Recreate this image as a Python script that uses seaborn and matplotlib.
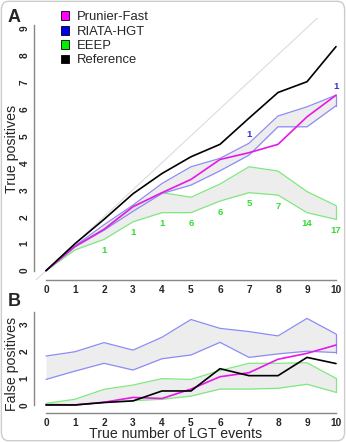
import numpy as np
import pandas as pd
import matplotlib
matplotlib.use("Agg")
import matplotlib.pyplot as plt
from matplotlib.patches import Patch, FancyBboxPatch
import seaborn as sns

sns.set_style("white")
plt.rcParams['font.family'] = ['Liberation Sans', 'DejaVu Sans']

# ---------------- data ----------------
n_lgt = list(range(11))

# Panel A: true positives
tp_reference = [0, 1.0, 1.9, 2.85, 3.6, 4.22, 4.68, 5.65, 6.6, 7.0, 8.3]
tp_prunier = [0, 0.9, 1.53, 2.37, 2.89, 3.38, 4.12, 4.37, 4.68, 5.7, 6.5]
tp_riata_hi = [0, 0.92, 1.7, 2.43, 3.23, 3.85, 4.16, 4.72, 5.73, 6.07, 6.5]
tp_riata_lo = [0, 0.88, 1.5, 2.2, 2.86, 3.17, 3.7, 4.28, 5.33, 5.33, 6.11]
tp_eeep_hi = [0, 0.9, 1.55, 2.37, 2.89, 2.72, 3.21, 3.85, 3.69, 2.93, 2.41]
tp_eeep_lo = [0, 0.77, 1.16, 1.81, 2.15, 2.15, 2.58, 2.89, 2.8, 2.15, 1.9]

eeep_counts = ["", "", "1", "1", "1", "6", "6", "5", "7", "14", "17"]
riata_counts = ["", "", "", "", "", "", "", "1", "", "", "1"]

# Panel B: false positives
fp_reference = [0, 0, 0.09, 0.15, 0.52, 0.52, 1.35, 1.09, 1.09, 1.77, 1.54]
fp_prunier = [0, 0, 0.1, 0.28, 0.24, 0.59, 1.05, 1.2, 1.7, 1.92, 2.23]
fp_riata_hi = [1.82, 1.98, 2.32, 2.04, 2.52, 3.18, 2.85, 2.73, 2.57, 3.22, 2.64]
fp_riata_lo = [0.95, 1.26, 1.55, 1.3, 1.72, 1.86, 2.33, 1.77, 1.9, 2.0, 1.95]
fp_eeep_hi = [0.06, 0.21, 0.58, 0.74, 0.98, 0.95, 1.28, 1.55, 1.55, 1.57, 0.99]
fp_eeep_lo = [0.04, 0.0, 0.1, 0.16, 0.21, 0.33, 0.59, 0.59, 0.62, 0.77, 0.47]

legend_labels = ["Prunier-Fast", "RIATA-HGT", "EEEP", "Reference"]
legend_colors = ["#ff00ff", "#0000ee", "#00ee00", "#000000"]

# ---------------- style ----------------
C_MAG = "#e619e6"
C_BLUE_EDGE = "#8c8cf5"
C_GREEN_EDGE = "#7fe87f"
C_FILL = "#e6e6e6"
C_SPINE = "#888888"
TICK_FS = 7.3
LABEL_FS = 10.2

W, H = 346, 442
fig = plt.figure(figsize=(W / 100, H / 100), dpi=100)


def px_axes(left, right, top, bottom):
    return fig.add_axes([left / W, 1 - bottom / H, (right - left) / W, (bottom - top) / H])


def style_axes(ax, ymax_tick, ybound_top):
    ax.set_xlim(-0.4, 10.4)
    for s in ["top", "right"]:
        ax.spines[s].set_visible(False)
    for s in ["left", "bottom"]:
        ax.spines[s].set_color(C_SPINE)
        ax.spines[s].set_linewidth(1.0)
    ax.spines["bottom"].set_bounds(0, 10)
    ax.spines["left"].set_bounds(0, ybound_top)
    ax.set_xticks(n_lgt)
    ax.set_yticks(range(0, ymax_tick + 1))
    ax.tick_params(axis="both", direction="out", length=2.3, width=0.8,
                   color="#333333", labelsize=TICK_FS, pad=1.2)
    for lab in ax.get_xticklabels():
        lab.set_fontweight("bold")
    for lab in ax.get_yticklabels():
        lab.set_fontweight("bold")
        lab.set_rotation(90)
        lab.set_va("center")
    ax.set_facecolor("none")
    ax.grid(False)


def band(ax, x, lo, hi, edge):
    ax.fill_between(x, lo, hi, color=C_FILL, alpha=0.7, lw=0, zorder=1)
    sns.lineplot(x=x, y=lo, ax=ax, color=edge, lw=0.9, zorder=2)
    sns.lineplot(x=x, y=hi, ax=ax, color=edge, lw=0.9, zorder=2)
    ax.plot([x[-1], x[-1]], [lo[-1], hi[-1]], color=edge, lw=0.9, zorder=2)


# ---------------- Panel A ----------------
AX_L, AX_R = 34.4, 347.6
axA = px_axes(AX_L, AX_R, 18.0, 280.4)
axA.set_ylim(-0.36, 9.36)
axA.plot([-0.4, 10.4], [-0.4, 10.4], color="#dcdcdc", lw=0.8, zorder=0)

band(axA, n_lgt, tp_eeep_lo, tp_eeep_hi, C_GREEN_EDGE)
band(axA, n_lgt, tp_riata_lo, tp_riata_hi, C_BLUE_EDGE)
sns.lineplot(x=n_lgt, y=tp_prunier, ax=axA, color=C_MAG, lw=1.2, zorder=4)
sns.lineplot(x=n_lgt, y=tp_reference, ax=axA, color="black", lw=1.2, zorder=5)

for xi, lab, lo in zip(n_lgt, eeep_counts, tp_eeep_lo):
    if lab:
        axA.annotate(lab, (xi, lo), xytext=(0, -8), textcoords="offset points",
                     ha="center", va="center", fontsize=6.8, fontweight="bold",
                     color="#33dd33")
for xi, lab, hi in zip(n_lgt, riata_counts, tp_riata_hi):
    if lab:
        axA.annotate(lab, (xi, hi), xytext=(0, 6), textcoords="offset points",
                     ha="center", va="center", fontsize=6.8, fontweight="bold",
                     color="#3333cc")

style_axes(axA, 9, 9.1)
axA.set_ylabel("True positives", fontsize=LABEL_FS)
axA.yaxis.set_label_coords((19 - AX_L) / (AX_R - AX_L), 0.5)
axA.set_xlabel("")

handles = [Patch(facecolor=c, edgecolor="black", linewidth=0.6) for c in legend_colors]
axA.legend(handles, legend_labels, loc="upper left", bbox_to_anchor=(0.068, 1.045),
           frameon=False, fontsize=9.4, handlelength=0.65, handleheight=0.65,
           handletextpad=0.6, labelspacing=0.18, borderaxespad=0)

fig.text(8 / W, 1 - 17 / H, "A", fontsize=13, fontweight="bold", va="center", ha="left")

# ---------------- Panel B ----------------
axB = px_axes(AX_L, AX_R, 310.9, 413.0)
axB.set_ylim(-0.3, 3.5)

band(axB, n_lgt, fp_eeep_lo, fp_eeep_hi, C_GREEN_EDGE)
band(axB, n_lgt, fp_riata_lo, fp_riata_hi, C_BLUE_EDGE)
sns.lineplot(x=n_lgt, y=fp_prunier, ax=axB, color=C_MAG, lw=1.2, zorder=4)
sns.lineplot(x=n_lgt, y=fp_reference, ax=axB, color="black", lw=1.2, zorder=5)

style_axes(axB, 3, 3.45)
axB.set_ylabel("False positives", fontsize=LABEL_FS)
axB.yaxis.set_label_coords((19 - AX_L) / (AX_R - AX_L), 0.48)
axB.set_xlabel("True number of LGT events", fontsize=LABEL_FS)
axB.xaxis.set_label_coords((176 - AX_L) / (AX_R - AX_L), -(426.5 - 413.0) / 102.1)

fig.text(8 / W, 1 - 301 / H, "B", fontsize=13, fontweight="bold", va="center", ha="left")

# rounded border
fig.patches.append(FancyBboxPatch((0.004, 0.003), 0.992, 0.994,
                                  boxstyle="round,pad=0,rounding_size=0.02",
                                  transform=fig.transFigure, fill=False,
                                  edgecolor="#cccccc", linewidth=1.0))

fig.savefig("out.png", dpi=100)
